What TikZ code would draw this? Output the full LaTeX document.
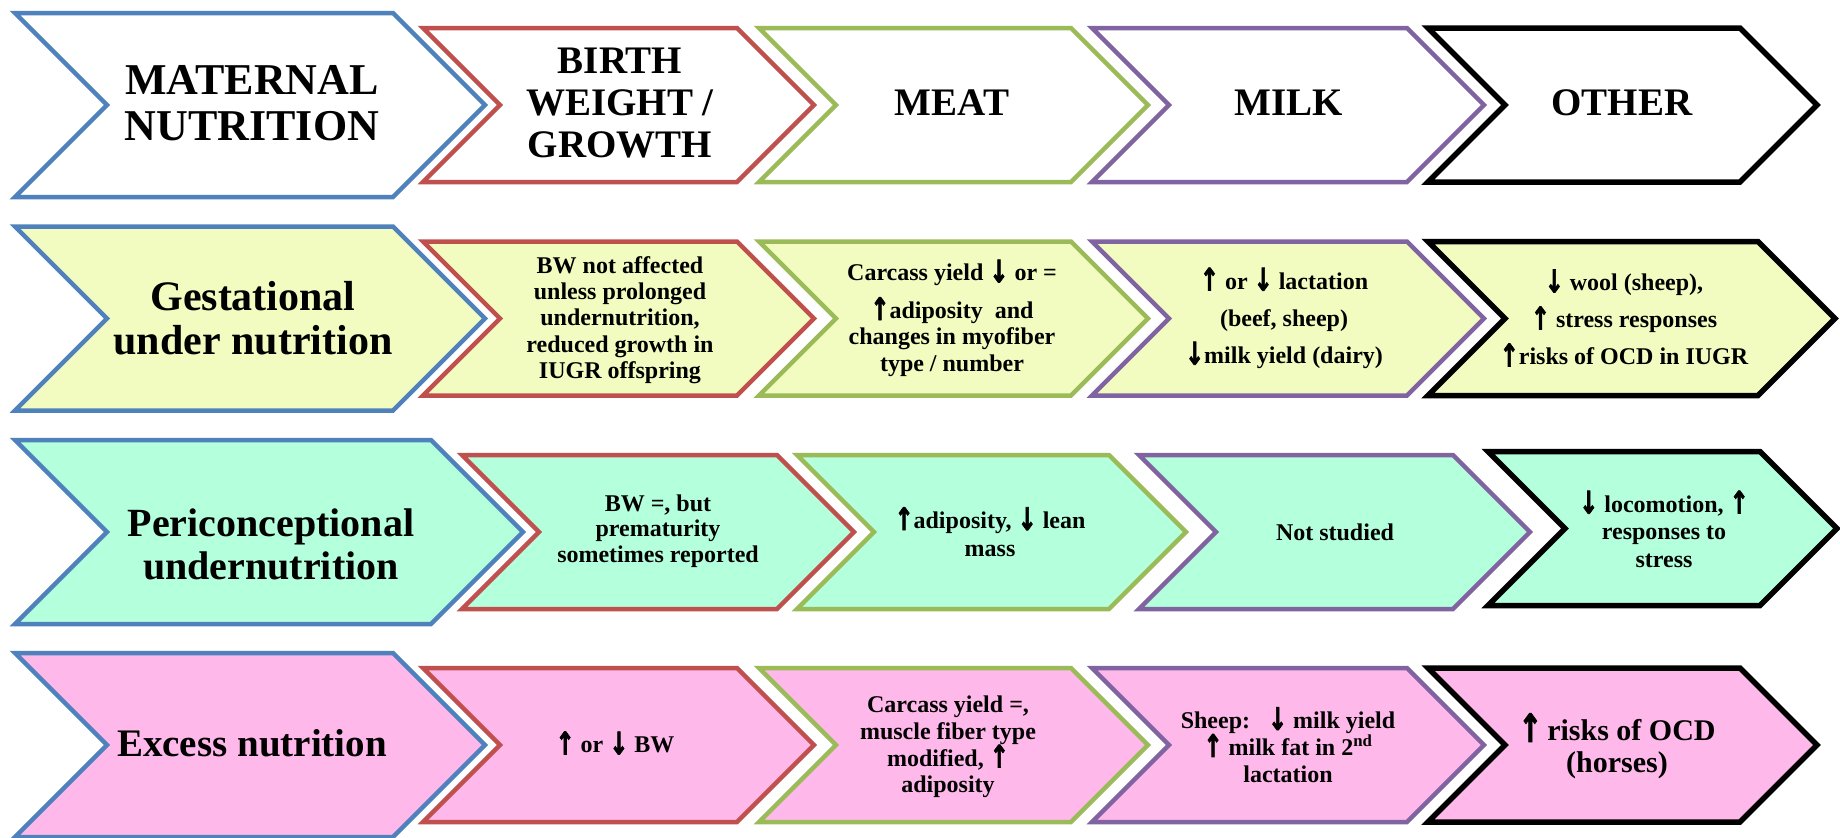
\documentclass[tikz,border=0pt]{standalone}
\usepackage{fontspec}
\setmainfont{Liberation Serif}
\newfontfamily\arrowfont{DejaVu Sans Bold}[FakeBold=2.5]
\definecolor{cBlue}{HTML}{4F81BD}
\definecolor{cRed}{HTML}{C0504D}
\definecolor{cGreen}{HTML}{9BBB59}
\definecolor{cPurple}{HTML}{8064A2}
\definecolor{fYel}{HTML}{F3FCC0}
\definecolor{fMint}{HTML}{B4FFDC}
\definecolor{fPink}{HTML}{FFB8EA}
\newcommand\uparr{\raisebox{-0.06em}{\scalebox{0.95}[1.3]{\arrowfont ↑}}}
\newcommand\dnarr{\raisebox{-0.06em}{\scalebox{0.95}[1.3]{\arrowfont ↓}}}
% #1 left x, #2 top-right x, #3 centre y, #4 half height, #5 line colour, #6 fill
\newcommand\chev[6]{\filldraw[chevline,draw=#5,fill=#6] (#1,#3-#4) -- (#2,#3-#4) -- (#2+#4,#3) -- (#2,#3+#4) -- (#1,#3+#4) -- (#1+#4,#3) -- cycle;}
\tikzset{
  chevline/.style={line width=4.5pt, line join=miter},
  body/.style={font=\bfseries\fontsize{24}{#1}\selectfont, align=center, inner sep=0pt},
  body/.default=26.3,
  hdr/.style={font=\bfseries\fontsize{39}{42}\selectfont, align=center, inner sep=0pt},
  lbl/.style 2 args={font=\bfseries\fontsize{#1}{#2}\selectfont, align=center, inner sep=0pt},
}
\begin{document}
\begin{tikzpicture}[x=1pt,y=-1pt]
\useasboundingbox (0,0) rectangle (1840,838);
% ---- row 1
\chev{15}{393}{105}{92}{cBlue}{white}
\chev{423}{737}{105}{77}{cRed}{white}
\chev{759}{1071}{105}{77}{cGreen}{white}
\chev{1092}{1407}{105}{77}{cPurple}{white}
\begin{scope}[chevline/.append style={line width=5.5pt}]
\chev{1428}{1740}{105}{77}{black}{white}
\end{scope}
% ---- row 2
\chev{15}{393}{318.5}{92}{cBlue}{fYel}
\chev{423}{737}{318.5}{77}{cRed}{fYel}
\chev{759}{1071}{318.5}{77}{cGreen}{fYel}
\chev{1092}{1407}{318.5}{77}{cPurple}{fYel}
\begin{scope}[chevline/.append style={line width=5.5pt}]
\chev{1428}{1758}{318.5}{77}{black}{fYel}
\end{scope}
% ---- row 3
\chev{15}{431}{532}{92}{cBlue}{fMint}
\chev{462}{777}{532}{77}{cRed}{fMint}
\chev{797}{1109}{532}{77}{cGreen}{fMint}
\chev{1139}{1453}{532}{77}{cPurple}{fMint}
\begin{scope}[chevline/.append style={line width=5.5pt}]
\chev{1488}{1760}{528.5}{77}{black}{fMint}
\end{scope}
% ---- row 4
\chev{15}{393}{745}{92}{cBlue}{fPink}
\chev{423}{737}{745}{77}{cRed}{fPink}
\chev{759}{1071}{745}{77}{cGreen}{fPink}
\chev{1092}{1407}{745}{77}{cPurple}{fPink}
\begin{scope}[chevline/.append style={line width=5.5pt}]
\chev{1428}{1740}{745}{77}{black}{fPink}
\end{scope}

% ---- texts row 1
\node[lbl={44}{46}] (h1) at (252,103) {MATERNAL\\NUTRITION};
\node[hdr] (h2) at (620,103) {BIRTH\\WEIGHT /\\GROWTH};
\node[hdr] (h3) at (952,103) {MEAT};
\node[hdr] (h4) at (1289,103) {MILK};
\node[hdr] (h5) at (1622,103) {OTHER};
% ---- row 2
\node[lbl={42}{44}] (g1) at (253,318) {Gestational\\under nutrition};
\node[body] (g2) at (620,320) {BW not affected\\unless prolonged\\undernutrition,\\reduced growth in\\IUGR offspring};
\node[body] (g3) at (952,318) {Carcass yield \dnarr\ or =\\[10pt]\uparr adiposity\ \ and\\changes in myofiber\\type / number};
\node[body=37] (g4) at (1284,318) {\uparr\ or \dnarr\ lactation\\(beef, sheep)\\\dnarr milk yield (dairy)};
\node[body=37] (g5) at (1624,318) {\dnarr\ wool (sheep),\\\uparr\ stress responses\\\uparr risks of OCD in IUGR};
% ---- row 3
\node[lbl={40}{43}] (p1) at (271,544) {Periconceptional\\undernutrition};
\node[body=25.5] (p2) at (658,531) {BW =, but\\prematurity\\sometimes reported};
\node[body=28] (p3) at (990,532) {\uparr adiposity, \dnarr\ lean\\mass};
\node[body] (p4) at (1335,532) {Not studied};
\node[body=27.5] (p5) at (1664,529) {\dnarr\ locomotion, \uparr\\responses to\\stress};
% ---- row 4
\node[lbl={39}{42}] (e1) at (252,743) {Excess nutrition};
\node[body] (e2) at (615,743) {\uparr\ or \dnarr\ BW};
\node[body=26.7] (e3) at (948,747) {Carcass yield =,\\muscle fiber type\\modified, \uparr\\adiposity};
\node[body=27] (e4) at (1288,745) {Sheep:\ \ \ \dnarr\ milk yield\\\uparr\ milk fat in 2\textsuperscript{nd}\\lactation};
\node[lbl={30}{32}] (e5) at (1617,746) {\uparr\,risks of OCD\\(horses)};
\end{tikzpicture}
\end{document}
